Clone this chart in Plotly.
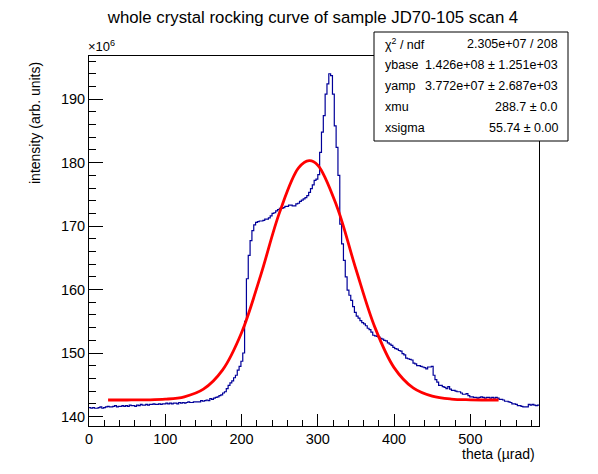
import numpy as np
import plotly.graph_objects as go

# histogram: intensity per bin (x 10^6), bins of 2.4 urad starting at 0
bin_width = 2.4
counts = [
    141.4, 141.3, 141.4, 141.3, 141.3, 141.4, 141.5, 141.3, 141.4, 141.5,
    141.6, 141.5, 141.5, 141.6, 141.7, 141.5, 141.6, 141.6, 141.7, 141.6,
    141.7, 141.6, 141.8, 141.7, 141.7, 141.6, 141.8, 141.7, 141.9, 141.8,
    141.8, 141.9, 141.8, 141.9, 141.9, 142.0, 141.9, 141.9, 142.0, 141.9,
    142.0, 142.0, 142.1, 142.0, 142.1, 142.0, 142.1, 142.1, 142.0, 142.2,
    142.1, 142.2, 142.1, 142.2, 142.3, 142.2, 142.2, 142.3, 142.3, 142.3,
    142.3, 142.5, 142.4, 142.5, 142.6, 142.5, 142.8, 142.7, 142.9, 143.0,
    143.1, 143.3, 143.4, 143.7, 143.9, 144.4, 144.9, 145.3, 145.6, 146.1,
    146.5, 147.3, 147.9, 148.7, 150.0, 155.0, 161.7, 165.4, 167.7, 169.3,
    170.2, 170.6, 170.7, 170.8, 170.8, 170.9, 171.1, 171.1, 171.3, 171.6,
    172.0, 172.1, 172.4, 172.6, 172.8, 172.8, 172.9, 173.1, 173.1, 173.3,
    173.3, 173.2, 173.2, 173.5, 173.6, 173.9, 174.1, 174.3, 174.5, 174.8,
    175.3, 175.9, 176.5, 177.2, 177.4, 178.1, 181.6, 184.8, 187.4, 190.8,
    192.4, 194.0, 193.7, 190.8, 185.8, 182.4, 178.0, 170.3, 167.2, 164.6,
    162.0, 159.9, 159.1, 158.3, 157.3, 156.4, 155.8, 155.5, 155.1, 154.8,
    154.6, 154.3, 153.9, 153.7, 153.3, 152.8, 152.7, 152.6, 152.5, 152.3,
    152.2, 152.0, 151.9, 151.6, 151.4, 151.2, 150.9, 150.7, 150.6, 150.4,
    150.3, 149.9, 149.7, 149.2, 149.1, 149.0, 148.9, 148.4, 148.3, 148.0,
    148.0, 147.9, 147.8, 147.7, 147.5, 147.8, 147.8, 147.9, 146.5, 145.8,
    145.4, 144.9, 144.9, 144.7, 144.6, 144.4, 144.7, 144.3, 144.1, 144.1,
    144.0, 143.9, 143.9, 143.7, 143.5, 143.5, 143.6, 143.3, 143.1, 143.1,
    143.0, 143.0, 142.9, 143.0, 143.1, 143.0, 142.9, 143.0, 143.0, 142.9,
    143.0, 142.9, 143.0, 142.9, 142.7, 142.7, 142.6, 142.4, 142.4, 142.3,
    142.2, 142.0, 142.0, 141.9, 141.7, 141.7, 141.6, 141.5, 141.5, 141.5,
    141.9, 141.8, 141.9, 141.8, 141.7, 141.8,
]

# gaussian fit curve
fit_theta = [25, 50, 75, 100, 125, 150, 175, 200, 225, 250, 275, 288.7,
             300, 325, 350, 375, 400, 425, 450, 475, 500, 537]
fit_intensity = [142.6, 142.6, 142.62, 142.72, 143.1, 144.3, 147.3, 153.2,
                 162.2, 172.2, 179.2, 180.3, 179.6, 173.1, 163.2, 154.0,
                 147.7, 144.5, 143.2, 142.74, 142.63, 142.6]

stat_names = ["\u03c7<sup>2</sup> / ndf", "ybase", "yamp", "xmu", "xsigma"]
stat_values = ["2.305e+07 / 208", "1.426e+08 \u00b1 1.251e+03",
               "3.772e+07 \u00b1 2.687e+03", "288.7 \u00b1 0.0",
               "55.74 \u00b1 0.00"]

edges = np.arange(len(counts) + 1) * bin_width
step_y = counts + [counts[-1]]

fig = go.Figure()
fig.add_trace(go.Scatter(x=edges, y=step_y, mode='lines', line_shape='hv',
                         line=dict(color='#000099', width=1.2),
                         hoverinfo='skip'))
fig.add_trace(go.Scatter(x=fit_theta, y=fit_intensity, mode='lines',
                         line_shape='spline',
                         line=dict(color='#ff0000', width=2.8),
                         hoverinfo='skip'))

font = "Liberation Sans, Arial, sans-serif"
axis_common = dict(showline=True, linecolor='black', linewidth=1, mirror=True,
                   ticks='inside', tickcolor='black', showgrid=False,
                   zeroline=False, tickfont=dict(family=font, size=14.5, color='black'))

# the page body adds 8px, so the figure is 8px smaller than the window
fig.update_layout(
    width=590, height=466,
    margin=dict(l=81, r=59, t=48, b=48),
    paper_bgcolor='white', plot_bgcolor='white',
    showlegend=False,
    title=dict(text="whole crystal rocking curve of sample JD70-105 scan 4",
               x=0.517, xanchor='center', y=0.98, yanchor='middle',
               font=dict(family=font, size=16.8, color='black')),
    xaxis=dict(range=[0, 590], dtick=100, tick0=0, ticklen=12,
               minor=dict(ticks='inside', ticklen=6, dtick=20, tickcolor='black'),
               **axis_common),
    yaxis=dict(range=[138.5, 196.8], dtick=10, tick0=140, ticklen=14,
               minor=dict(ticks='inside', ticklen=7, dtick=2, tickcolor='black'),
               **axis_common),
)

# axis titles and the exponent, placed like ROOT does
fig.add_annotation(text="intensity (arb. units)", textangle=-90,
                   xref='paper', yref='paper', x=-0.12, y=1.0,
                   xanchor='center', yanchor='top', yshift=-4, showarrow=False,
                   font=dict(family=font, size=14, color='black'))
fig.add_annotation(text="theta (\u00b5rad)", xref='paper', yref='paper',
                   x=1.0, y=0, xanchor='right', yanchor='top', yshift=-18,
                   xshift=-2, showarrow=False,
                   font=dict(family=font, size=14, color='black'))
fig.add_annotation(text="\u00d710<sup>6</sup>", xref='paper', yref='paper',
                   x=0, y=1, xanchor='left', yanchor='bottom', xshift=-3,
                   showarrow=False, font=dict(family=font, size=13, color='black'))

# stats box (sticks out past the right edge of the frame, as in ROOT)
fig.add_shape(type='rect', xref='paper', yref='paper',
              x0=(374 - 89) / 450, x1=(568 - 89) / 450,
              y0=(426 - 141) / 370, y1=(426 - 32) / 370,
              line=dict(color='black', width=1), fillcolor='white', layer='above')
for k, (name, val) in enumerate(zip(stat_names, stat_values)):
    ypx = 43.5 + 21.2 * k
    yp = (426 - ypx) / 370
    fig.add_annotation(text=name, xref='paper', yref='paper',
                       x=(383 - 89) / 450, y=yp, xanchor='left', yanchor='middle',
                       showarrow=False, font=dict(family=font, size=12.5, color='black'))
    fig.add_annotation(text=val, xref='paper', yref='paper',
                       x=(560 - 89) / 450, y=yp, xanchor='right', yanchor='middle',
                       showarrow=False, font=dict(family=font, size=12.5, color='black'))

fig.write_html("out.html")
